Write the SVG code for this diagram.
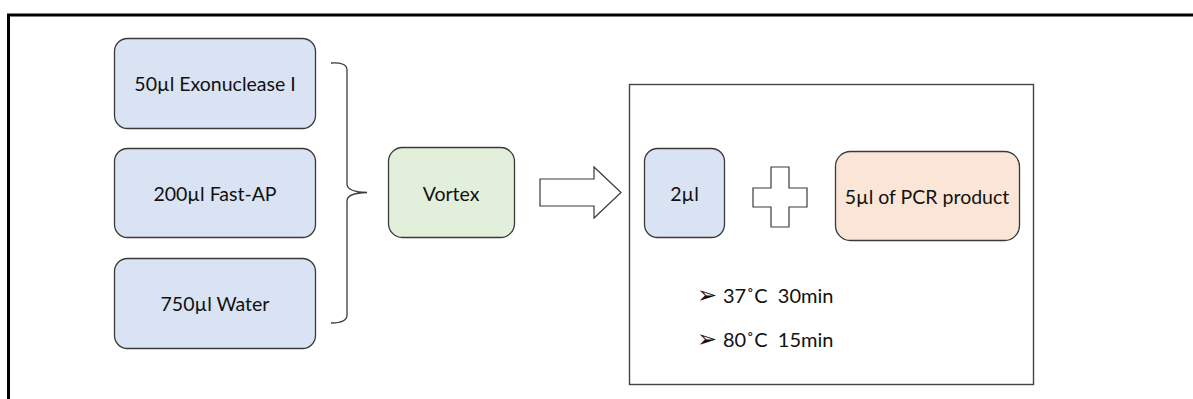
<svg xmlns="http://www.w3.org/2000/svg" width="1193" height="399" viewBox="0 0 1193 399">
  <style>
    .box { stroke: #3a3a3a; stroke-width: 1.3; }
    .blue { fill: #dae3f3; }
    .green { fill: #e2efda; }
    .peach { fill: #fbe5d6; }
    .lbl { font-family: Lato, "Liberation Sans", Arial, sans-serif; font-size: 19.5px; fill: #111; text-anchor: middle; }
    .step { font-family: Lato, "Liberation Sans", Arial, sans-serif; font-size: 20px; fill: #111; white-space: pre; }
    .bullet { font-family: "DejaVu Sans", sans-serif; font-size: 24px; fill: #111; }
    .shape { fill: #ffffff; stroke: #3a3a3a; stroke-width: 1.2; }
  </style>
  <rect width="1193" height="399" fill="#ffffff"/>

  <!-- outer frame (open to the right and bottom) -->
  <path d="M8.5 402 V15 H1196" fill="none" stroke="#000" stroke-width="3"/>

  <!-- reagents -->
  <g id="exonuclease">
    <rect class="box blue" x="114.5" y="38.5" width="201" height="90" rx="13"/>
    <text class="lbl" x="215" y="91">50µl Exonuclease I</text>
  </g>
  <g id="fast-ap">
    <rect class="box blue" x="114.5" y="148.5" width="201" height="89" rx="13"/>
    <text class="lbl" x="215" y="201">200µl Fast-AP</text>
  </g>
  <g id="water">
    <rect class="box blue" x="114.5" y="258.5" width="201" height="90" rx="13"/>
    <text class="lbl" x="215" y="311">750µl Water</text>
  </g>

  <g id="vortex">
    <rect class="box green" x="388.5" y="147.5" width="126" height="90" rx="14"/>
    <text class="lbl" x="451" y="201">Vortex</text>
  </g>

  <!-- reaction panel -->
  <g id="reaction">
    <rect x="629.5" y="84.5" width="404" height="300" fill="#ffffff" stroke="#444" stroke-width="1.4"/>
  </g>
  <g id="mix">
    <rect class="box blue" x="644.5" y="148.5" width="80" height="89" rx="13"/>
    <text class="lbl" x="684.5" y="201">2µl</text>
  </g>
  <g id="plus">
    <path class="shape" d="M771 167 H789 V188 H807 V207 H789 V227 H771 V207 H753 V188 H771 Z"/>
  </g>
  <g id="pcr-product">
    <rect class="box peach" x="835.5" y="151.5" width="184" height="89" rx="15"/>
    <text class="lbl" x="927" y="204">5µl of PCR product</text>
  </g>
  <g id="conditions">
    <text class="bullet" x="697" y="303">➢</text>
    <text class="step" x="723" y="303">37˚C  30min</text>
    <text class="bullet" x="697" y="347">➢</text>
    <text class="step" x="723" y="347">80˚C  15min</text>
  </g>

  <!-- connectors -->
  <g id="connectors">
    <path d="M331 63 Q347 62 347 70 V184 Q347 192 367 192.5 Q347 193 347 201 V315 Q347 323 331 323" fill="none" stroke="#3a3a3a" stroke-width="1.3"/>
    <polygon class="shape" points="540,179 594,179 594,167 621,192.5 594,218 594,206 540,206"/>
  </g>
</svg>
